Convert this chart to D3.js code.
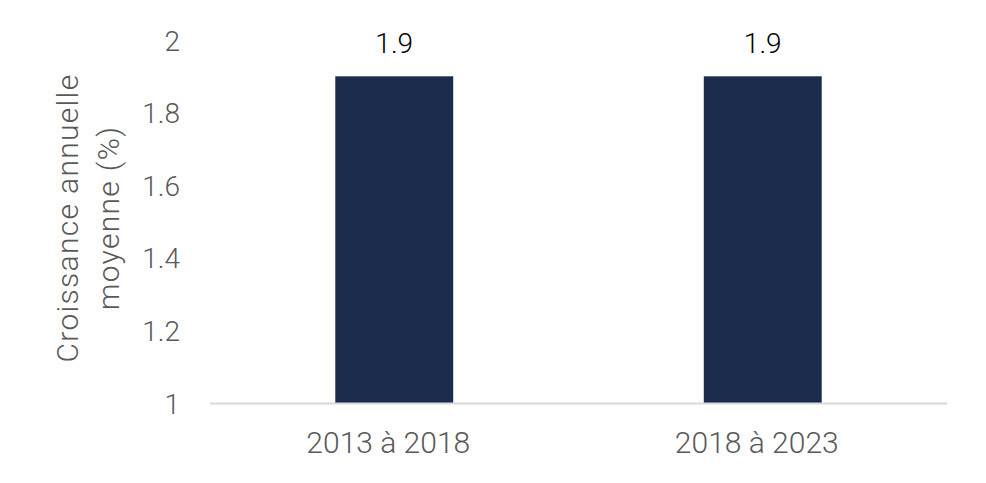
<!DOCTYPE html>
<html><head><meta charset="utf-8">
<script src="https://cdn.jsdelivr.net/npm/d3@7"></script>
<style>
html,body{margin:0;padding:0;background:#fff;}
svg text{font-family:Roboto,"Liberation Sans",sans-serif;font-weight:300;}
</style></head>
<body><svg id="c" width="986" height="483"></svg>
<script>
const categories = ["2013 à 2018", "2018 à 2023"];
const values = [1.9, 1.9];
const valueLabels = ["1.9", "1.9"];
const yTicks = [1, 1.2, 1.4, 1.6, 1.8, 2];
const yTickLabels = ["1", "1.2", "1.4", "1.6", "1.8", "2"];
const yTitle = ["Croissance annuelle", "moyenne (%)"];

(function(){
const svg = d3.select("#c");
const mLeft = 210, mRight = 947, mTop = 40, mBottom = 403;
const x = d3.scaleBand().domain(categories).range([mLeft, mRight]).paddingInner(0.68).paddingOuter(0.34);
const y = d3.scaleLinear().domain([1, 2]).range([mBottom, mTop]);

svg.selectAll("rect.bar").data(values).join("rect")
  .attr("class","bar")
  .attr("x",(d,i)=>x(categories[i]))
  .attr("width",x.bandwidth())
  .attr("y",d=>y(d))
  .attr("height",d=>y(1)-y(d))
  .attr("fill","#1b2b4b");

svg.selectAll("text.val").data(values).join("text")
  .attr("class","val")
  .attr("x",(d,i)=>x(categories[i])+x.bandwidth()/2)
  .attr("y",d=>y(d)-23)
  .attr("text-anchor","middle")
  .attr("font-size",28)
  .attr("fill","#000")
  .text((d,i)=>valueLabels[i]);

const yAxis = d3.axisLeft(y).tickValues(yTicks).tickFormat((d,i)=>yTickLabels[i]).tickSize(0).tickPadding(0);
const gy = svg.append("g").attr("transform",`translate(180,0)`).call(yAxis);
gy.select(".domain").remove();
gy.selectAll("text").attr("font-size",28).attr("fill","#595959").attr("dy","0.36em");

const xAxis = d3.axisBottom(x).tickSize(0).tickPadding(0);
const gx = svg.append("g").attr("transform",`translate(0,${mBottom})`).call(xAxis);
gx.select(".domain").remove();
gx.selectAll("text").attr("font-size",30).attr("fill","#595959").attr("dy",0).attr("dx",-6).attr("y",50);
svg.append("line").attr("x1",mLeft).attr("x2",mRight).attr("y1",mBottom+0.5).attr("y2",mBottom+0.5)
  .attr("stroke","#d9d9d9").attr("stroke-width",2);

const t = svg.append("text").attr("transform",`translate(78,218) rotate(-90)`)
  .attr("text-anchor","middle").attr("font-size",30).attr("fill","#595959")
  .attr("letter-spacing","1.3px");
t.selectAll("tspan").data(yTitle).join("tspan").attr("x",0).attr("dy",(d,i)=>i?41:0).text(d=>d);
})();
</script></body></html>
